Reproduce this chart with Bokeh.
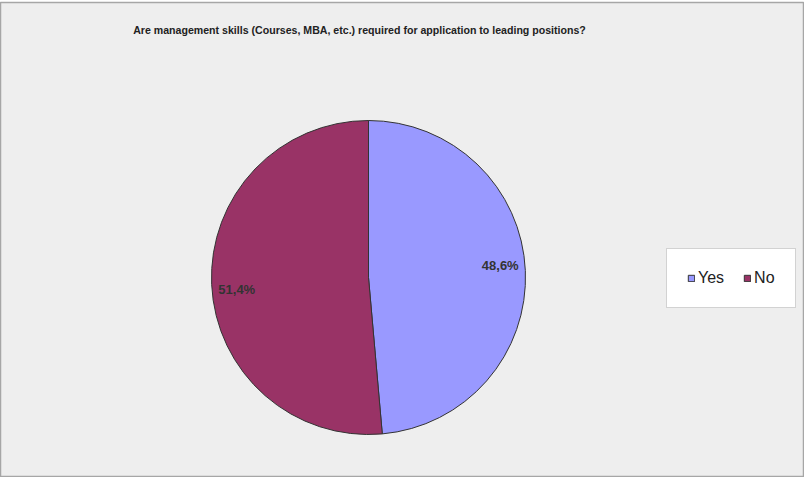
import math
from bokeh.plotting import figure
from bokeh.models import ColumnDataSource, Label, Legend, LegendItem
from bokeh.core.properties import value
from bokeh.embed import file_html
from bokeh.resources import INLINE

title_text = "Are management skills (Courses, MBA, etc.) required for application to leading positions?"
categories = ["Yes", "No"]
percent = [48.6, 51.4]
colors = ["#9999FF", "#993366"]

W, H = 804, 477
p = figure(width=W, height=H, output_backend="svg", toolbar_location=None,
           x_range=(0, 804), y_range=(0, 475), min_border_left=0, min_border_right=0,
           min_border_bottom=0, min_border_top=2)
p.axis.visible = False
p.grid.visible = False
p.background_fill_color = "#EEEEEE"
p.border_fill_color = "white"
p.outline_line_color = "#A6A6A6"
p.outline_line_width = 1.5

cx, cy, r = 368, 200, 157
total = sum(percent)
starts, ends, lx, ly, labels = [], [], [], [], []
a = math.pi / 2
for v in percent:
    sweep = v / total * 2 * math.pi
    starts.append(a)
    ends.append(a - sweep)
    mid = a - sweep / 2
    lx.append(cx + 0.84 * r * math.cos(mid))
    ly.append(cy + 0.84 * r * math.sin(mid) + (6 if math.cos(mid) > 0 else -6))
    labels.append(f"{v:.1f}".replace(".", ",") + "%")
    a -= sweep

src = ColumnDataSource(dict(cat=categories, start=starts, end=ends, color=colors,
                            lx=lx, ly=ly, lab=labels))
w = p.wedge(x=cx, y=cy, radius=r, start_angle="start", end_angle="end",
            direction="clock", fill_color="color", line_color="#333333",
            line_width=1, source=src)
p.text(x="lx", y="ly", text="lab", source=src, text_align="center",
       text_baseline="middle", text_font=value("Liberation Sans"),
       text_font_size="13px", text_font_style="bold", text_color="#333333")

p.add_layout(Label(x=359, y=448, text=title_text, text_align="center",
                   text_baseline="middle", text_font="Liberation Sans",
                   text_font_size="10.6px", text_font_style="bold",
                   text_color="#222222"))

legend = Legend(items=[LegendItem(label=c, renderers=[w], index=i)
                       for i, c in enumerate(categories)],
                orientation="horizontal", location=(666, 169),
                padding=20, spacing=19, margin=0,
                glyph_width=8, glyph_height=8, label_standoff=3,
                label_text_font="Liberation Sans", label_text_font_size="16px",
                label_text_color="#222222",
                border_line_color="#A6A6A6", border_line_width=1,
                background_fill_color="white", background_fill_alpha=1)
p.add_layout(legend)

open("out.html", "w").write(file_html(p, INLINE))
